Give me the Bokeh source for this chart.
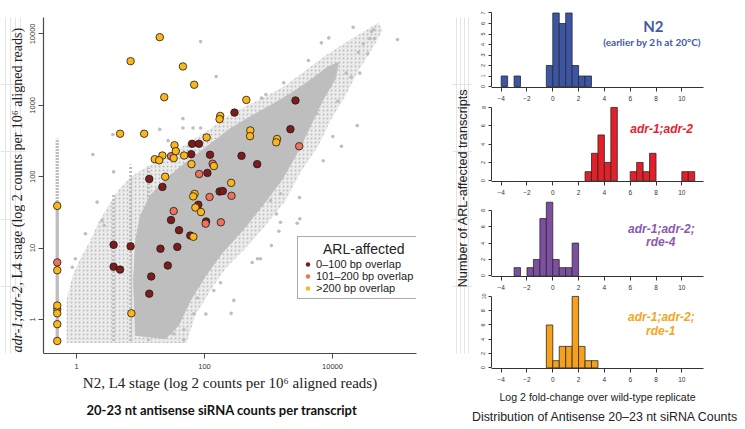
from math import pi
from bokeh.plotting import figure
from bokeh.layouts import row, column
from bokeh.models import (Range1d, FixedTicker, PrintfTickFormatter, Label,
                          Legend, LegendItem, Title)
from bokeh.embed import file_html
from bokeh.resources import INLINE

# ---------------- scatter data (counts per 10^6 aligned reads) ----------------
dark_x = [2640, 294, 2200, 64, 82, 62, 122, 379, 666, 111, 13.7, 22, 172, 193, 80,
          30, 106, 40, 60, 37.6, 20.5, 3.8, 7.0, 3.8, 4.8, 26.7, 14.7, 13.7]
dark_y = [1170, 790, 463, 289, 289, 207, 203, 196, 150, 113, 93, 72, 62, 63, 40.5,
          24.7, 23.6, 17.8, 15, 10.4, 9.8, 11.1, 10.6, 5.5, 5.0, 5.7, 4.0, 2.3]

salmon_x = [3020, 30, 134, 82.6, 120, 264, 33, 104, 180, 0.5, 0.5]
salmon_y = [267, 194, 152, 109, 52, 54, 33, 22, 23, 6.3, 1.39]

yellow_x = [20, 7, 46, 69, 23.5, 450, 176, 172, 4.8, 11.4, 520, 515, 108, 1360, 1320,
            34, 35.6, 22, 48, 16.7, 19.6, 33, 62.6, 140, 24.3, 261, 70, 66.6, 72, 88,
            67, 7.2, 0.5, 0.5, 0.5, 0.5, 0.5, 0.5]
yellow_y = [9000, 4150, 3500, 1940, 1300, 1190, 710, 640, 400, 400, 445, 370, 355, 337, 303,
            276, 228, 198, 198, 176, 170, 182, 150, 141, 100, 82, 57.5, 53, 37, 32,
            14.4, 1.22, 39, 4.9, 1.57, 1.22, 0.86, 0.50]

# background transcripts: outline of the sparse cloud and of its dense core
fringe_x = [0.70, 0.70, 0.87, 1.15, 1.65, 2.2, 3.16, 4.5, 6.5, 10, 15.4, 24.6, 42, 72, 124,
            213, 437, 898, 1840, 3790, 7780, 16000, 32800, 52300, 60400, 42200, 25500,
            16000, 9300, 6040, 3160, 1840, 898, 437, 213, 124, 72, 52]
fringe_y = [0.47, 1.85, 4.1, 7.2, 12.8, 22.8, 39.5, 64, 94, 122, 153, 198, 257, 343, 473,
            675, 962, 1330, 1890, 3070, 4980, 7580, 11200, 14400, 11200, 6250, 3070,
            1370, 612, 274, 115, 46, 20.7, 9.9, 5.2, 2.55, 1.14, 0.47]
core_x = [8.4, 7.8, 8.4, 10, 14.3, 22, 39, 72, 133, 255, 562, 1290, 2640, 4870, 8660,
          12400, 11100, 6980, 4530, 2940, 1660, 805, 392, 191, 104, 60, 39, 24.6]
core_y = [0.6, 3.5, 12.8, 28.6, 54.5, 83, 130, 198, 301, 473, 720, 1090, 1610, 2370, 3490,
          3970, 2370, 1170, 521, 233, 94, 39.5, 17.6, 8.7, 4.1, 1.85, 0.82, 0.54]

# transcripts with zero reads in N2 (plotted at 0.5) and discrete low-count columns
zero_x = [0.5]
zero_dense = [0.5, 40]
zero_sparse = [40, 343]
streak_x = [3.8, 7.0, 13.4]
streak_lo = [0.5, 0.5, 0.5]
streak_hi = [58, 148, 134]

gray_x = [87, 3.7, 1.8, 3.8, 46, 20, 46, 66, 87, 27, 21000, 8750, 6700, 44000, 40600,
          45300, 37900, 4200, 152, 1730, 780, 910, 24300, 13800, 7160, 10100, 25500, 30200,
          35600, 16400, 19600, 26700, 12100, 5690, 3050, 1540, 556, 261, 140, 105, 1450,
          1110, 3080, 2810, 287, 178, 750, 673, 1330, 1540, 1075, 2.1, 1.38, 2.5, 2.7, 0.86,
          0.96, 33, 47.5, 47.5, 68, 77, 103700]
gray_y = [7800, 390, 205, 117, 650, 460, 480, 480, 480, 320, 12400, 8800, 7500, 11500, 10800,
          8600, 8600, 4240, 2530, 2070, 1260, 1420, 520, 267, 167, 366, 5540, 7260,
          5260, 2820, 2480, 2820, 1140, 760, 51, 23, 6.3, 1.22, 2.55, 1.19, 17.2,
          10.9, 25.7, 22.3, 1.85, 3.27, 7.1, 7.1, 30, 57.6, 46.4, 44, 15.9, 24.4, 20.7, 5.4,
          7.1, 0.63, 0.52, 0.72, 1.2, 2.0, 8350]

scatter_xticks = [1, 100, 10000]
scatter_yticks = [1, 10, 100, 1000, 10000]
legend_labels = ["0\u2013100 bp overlap", "101\u2013200 bp overlap", ">200 bp overlap"]

# ---------------- histogram data (log2 fold change, bin width 0.5) ----------------
BIN_W = 0.5
n2_left = [-4, -3, -0.5, 0, 0.5, 1, 1.5, 2, 2.5]
n2_count = [1, 1, 2, 7, 6, 7, 2, 1, 1]
adr_left = [2.5, 3, 3.5, 4, 4.5, 6, 6.5, 7, 7.5, 10, 10.5]
adr_count = [1, 3, 5, 2, 8, 1, 2, 1, 3, 1, 1]
rde4_left = [-3, -2, -1.5, -1, -0.5, 0, 0.5, 1, 1.5]
rde4_count = [1, 1, 2, 7, 9, 2, 1, 1, 4]
rde1_left = [-0.5, 0, 0.5, 1, 1.5, 2, 2.5, 3]
rde1_count = [6, 1, 3, 3, 10, 3, 1, 1]
hist_xticks = [-4, -2, 0, 2, 4, 6, 8, 10]

GRAY = "#bebebe"
AX = "#4a4a4a"
DARK = "#7f1b1b"
SALMON = "#ec735c"
GOLD = "#fbb71a"
TOTAL_H = 425


def text_fig(w):
    # its frame is aligned by the row with the scatter's frame (y 17..353 of the page)
    f = figure(width=w, height=TOTAL_H, x_range=Range1d(0, 1), y_range=Range1d(0, 1),
               output_backend="svg", toolbar_location=None, title=None,
               x_axis_location=None, y_axis_location=None, min_border=0)
    f.outline_line_color = None
    return f


# ================= y label of the scatter =================
ylab = text_fig(25)
ylab.add_layout(Label(x=17, y=1, x_units="screen", y_units="screen", text="adr-1;adr-2",
                      angle=pi / 2, text_align="left", text_baseline="middle",
                      text_font="Liberation Serif", text_font_style="italic",
                      text_font_size="14px", text_color="#222"))
ylab.add_layout(Label(x=17, y=68, x_units="screen", y_units="screen",
                      text=", L4 stage (log 2 counts per 10\u2076 aligned reads)",
                      angle=pi / 2, text_align="left", text_baseline="middle",
                      text_font="Liberation Serif", text_font_size="14px", text_color="#222"))

# ================= scatter =================
p = figure(width=427, height=TOTAL_H, x_axis_type="log", y_axis_type="log",
           x_range=Range1d(0.305, 205400), y_range=Range1d(0.334, 16980),
           output_backend="svg", toolbar_location=None, title=None,
           min_border_left=18, min_border_right=36, min_border_top=17, min_border_bottom=72)
p.outline_line_color = None
p.xgrid.grid_line_color = None
p.ygrid.grid_line_color = None

p.patch(fringe_x, fringe_y, fill_color=GRAY, fill_alpha=0.3, line_color=None,
        hatch_pattern=".", hatch_color=GRAY, hatch_scale=4, hatch_weight=1.5)
p.patch(core_x, core_y, fill_color=GRAY, line_color=GRAY, line_width=1)
p.segment(x0=zero_x, y0=[zero_dense[0]], x1=zero_x, y1=[zero_dense[1]],
          line_color=GRAY, line_width=3.3)
p.segment(x0=zero_x, y0=[zero_sparse[0]], x1=zero_x, y1=[zero_sparse[1]],
          line_color=GRAY, line_width=3.3, line_dash="2 1")
p.segment(x0=streak_x, y0=streak_lo, x1=streak_x, y1=streak_hi,
          line_color=GRAY, line_width=3, line_dash="2 2")
p.scatter(gray_x, gray_y, size=3.6, fill_color=GRAY, line_color=None)

# small legend keys (drawn underneath the first point of each group)
keys = [p.scatter(xs[:1], ys[:1], size=5, fill_color=c, line_color=None)
        for xs, ys, c in ((dark_x, dark_y, DARK), (salmon_x, salmon_y, SALMON),
                          (yellow_x, yellow_y, GOLD))]

p.scatter(dark_x, dark_y, size=7.5, fill_color=DARK, line_color="#1a1a1a", line_width=0.8)
p.scatter(salmon_x, salmon_y, size=7.5, fill_color=SALMON, line_color="#1a1a1a", line_width=0.8)
p.scatter(yellow_x, yellow_y, size=7.5, fill_color=GOLD, line_color="#1a1a1a", line_width=0.8)

legend = Legend(items=[LegendItem(label=l, renderers=[r]) for l, r in zip(legend_labels, keys)],
                location=(254, 54), title="\u2003\u2002ARL-affected",
                title_text_font="Liberation Sans", title_text_font_size="14px",
                title_text_font_style="normal", title_text_color="#222", title_standoff=1,
                label_text_font="Liberation Sans", label_text_font_size="11px",
                label_text_color="#222", label_height=12, glyph_height=12, glyph_width=11,
                label_standoff=3, spacing=0, padding=4, margin=0,
                border_line_color="#555", border_line_width=1,
                background_fill_color="white", background_fill_alpha=1)
p.add_layout(legend)

p.xaxis.ticker = FixedTicker(ticks=scatter_xticks)
p.yaxis.ticker = FixedTicker(ticks=scatter_yticks)
for ax in (p.xaxis[0], p.yaxis[0]):
    ax.formatter = PrintfTickFormatter(format="%d")
    ax.major_tick_out = 5
    ax.major_tick_in = 0
    ax.minor_tick_line_color = None
    ax.axis_line_color = AX
    ax.axis_line_width = 1.2
    ax.major_tick_line_color = AX
    ax.major_label_text_font = "Liberation Sans"
    ax.major_label_text_font_size = "7.5px"
    ax.major_label_text_color = "#333"
p.yaxis.major_label_orientation = "vertical"
p.yaxis.major_label_standoff = 3
p.xaxis.major_label_standoff = 5
p.xaxis.axis_label = "N2, L4 stage (log 2 counts per 10\u2076 aligned reads)"
p.xaxis.axis_label_text_font = "Liberation Serif"
p.xaxis.axis_label_text_font_size = "15px"
p.xaxis.axis_label_text_font_style = "normal"
p.xaxis.axis_label_text_color = "#222"
p.xaxis.axis_label_standoff = 3
p.add_layout(Title(text="20-23 nt antisense siRNA counts per transcript", align="left",
                   offset=43, standoff=12, text_font="Lato", text_font_style="bold",
                   text_font_size="13px", text_color="#111"), "below")

# ================= y label of the histograms =================
hlab = text_fig(20)
hlab.add_layout(Label(x=10, y=165.5, x_units="screen", y_units="screen",
                      text="Number of ARL-affected transcripts", angle=pi / 2,
                      text_align="center", text_baseline="middle", text_font="Liberation Sans",
                      text_font_size="12.7px", text_color="#222"))


# ================= histograms =================
def hist(lefts, counts, color, y_lo, y_hi, yticks, h, top, bottom):
    f = figure(width=269, height=h, x_range=Range1d(-4.75, 11.68), y_range=Range1d(y_lo, y_hi),
               output_backend="svg", toolbar_location=None, title=None,
               min_border_left=19, min_border_right=38, min_border_top=top,
               min_border_bottom=bottom)
    f.outline_line_color = None
    f.xgrid.grid_line_color = None
    f.ygrid.grid_line_color = None
    f.quad(left=lefts, right=[v + BIN_W for v in lefts], bottom=0, top=counts,
           fill_color=color, line_color="#2a2a2a", line_width=0.8)
    xa = f.xaxis[0]
    xa.ticker = FixedTicker(ticks=hist_xticks)
    ya = f.yaxis[0]
    ya.ticker = FixedTicker(ticks=yticks)
    ya.bounds = (0, yticks[-1])
    ya.major_label_orientation = "vertical"
    for ax in (xa, ya):
        ax.major_tick_in = 0
        ax.minor_tick_line_color = None
        ax.axis_line_color = "#333"
        ax.major_tick_line_color = "#333"
        ax.major_label_text_font = "Liberation Sans"
        ax.major_label_text_color = "#333"
    xa.major_tick_out = 4
    xa.major_label_standoff = 4
    xa.major_label_text_font_size = "6.5px"
    ya.major_tick_out = 3
    ya.major_label_standoff = 3
    ya.major_label_text_font_size = "5.5px"
    return f


f1 = hist(n2_left, n2_count, "#3c55a5", -0.095, 7.238, [0, 1, 2, 3, 4, 5, 6, 7], 104, 10, 17)
f2 = hist(adr_left, adr_count, "#e3202a", -0.076, 8.21, [0, 2, 4, 6, 8], 94, 1, 17)
f3 = hist(rde4_left, rde4_count, "#7d4fa1", -0.086, 9.34, [0, 2, 4, 6, 8], 95, 1, 17)
f4 = hist(rde1_left, rde1_count, "#f5a11c", -0.095, 10.27, [0, 2, 4, 6, 8, 10], 132, 1, 55)

BLUE_T = "#4359a8"
f1.add_layout(Label(x=7.8, y=5.78, text="N2", text_align="center", text_baseline="middle",
                    text_font="Lato", text_font_style="bold", text_font_size="15px",
                    text_color=BLUE_T))
f1.add_layout(Label(x=7.7, y=4.22, text="(earlier by 2\u2009h at 20\u00b0C)", text_align="center",
                    text_baseline="middle", text_font="Lato", text_font_style="bold",
                    text_font_size="10px", text_color=BLUE_T))
f2.add_layout(Label(x=8.43, y=5.67, text="adr-1;adr-2", text_align="center",
                    text_baseline="middle", text_font="Liberation Sans",
                    text_font_style="bold italic", text_font_size="12px", text_color="#e8212b"))
for f, c, y1, y2, t2 in ((f3, "#8a5aab", 5.75, 4.11, "rde-4"), (f4, "#f5a623", 7.09, 5.13, "rde-1")):
    f.add_layout(Label(x=8.42, y=y1, text="adr-1;adr-2;", text_align="center",
                       text_baseline="middle", text_font="Liberation Sans",
                       text_font_style="bold italic", text_font_size="12px", text_color=c))
    f.add_layout(Label(x=8.37, y=y2, text=t2, text_align="center",
                       text_baseline="middle", text_font="Liberation Sans",
                       text_font_style="bold italic", text_font_size="12px", text_color=c))

f4.xaxis.axis_label = "Log 2 fold-change over wild-type replicate"
f4.xaxis.axis_label_text_font = "Liberation Sans"
f4.xaxis.axis_label_text_font_size = "10.6px"
f4.xaxis.axis_label_text_font_style = "normal"
f4.xaxis.axis_label_text_color = "#222"
f4.xaxis.axis_label_standoff = 6
f4.add_layout(Title(text="Distribution of Antisense 20\u201323 nt siRNA Counts", align="right",
                    offset=-35, standoff=4, text_font="Liberation Sans", text_font_style="normal",
                    text_font_size="12.4px", text_color="#222"), "below")

layout = row(ylab, p, hlab, column(f1, f2, f3, f4, spacing=0), spacing=0)
open("out.html", "w").write(file_html(layout, INLINE))
